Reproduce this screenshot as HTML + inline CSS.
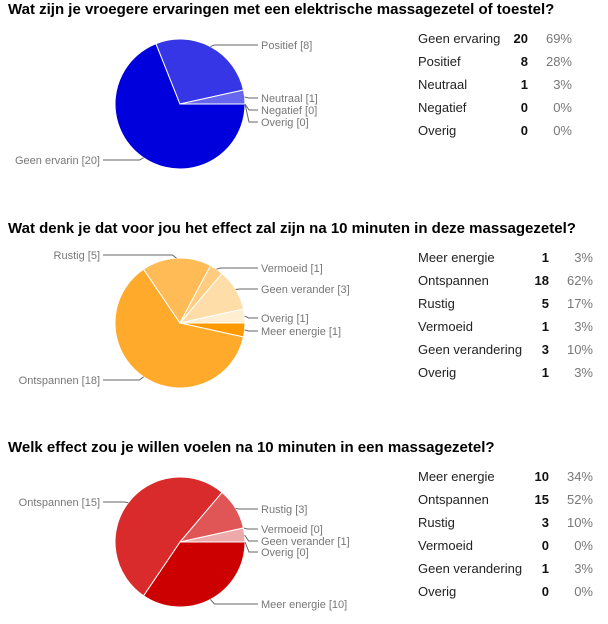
<!DOCTYPE html>
<html><head><meta charset="utf-8">
<style>
body{margin:0;width:608px;height:624px;background:#fff;font-family:"Liberation Sans",Arial,sans-serif;position:relative;overflow:hidden}
.title{position:absolute;left:8px;font-weight:bold;font-size:15px;color:#000}
table{position:absolute;border-collapse:collapse;font-size:13px}
td{height:23px;padding:0;vertical-align:middle}
td.l{color:#222}
td.n{text-align:right;font-weight:bold;color:#111}
td.p{text-align:right;color:#777}
</style></head><body>
<div class="title" style="top:1px">Wat zijn je vroegere ervaringen met een elektrische massagezetel of toestel?</div>
<div class="title" style="top:220px">Wat denk je dat voor jou het effect zal zijn na 10 minuten in deze massagezetel?</div>
<div class="title" style="top:439px">Welk effect zou je willen voelen na 10 minuten in een massagezetel?</div>
<svg id="svg" width="608" height="624" style="position:absolute;left:0;top:0"></svg>
<script>
const cats1=["Geen ervaring","Positief","Neutraal","Negatief","Overig"];
const vals1=[20,8,1,0,0];
const pieLabels1=["Geen ervarin [20]","Positief [8]","Neutraal [1]","Negatief [0]","Overig [0]"];
const pcts1=["69%","28%","3%","0%","0%"];
const cats2=["Meer energie","Ontspannen","Rustig","Vermoeid","Geen verandering","Overig"];
const vals2=[1,18,5,1,3,1];
const pieLabels2=["Meer energie [1]","Ontspannen [18]","Rustig [5]","Vermoeid [1]","Geen verander [3]","Overig [1]"];
const pcts2=["3%","62%","17%","3%","10%","3%"];
const cats3=["Meer energie","Ontspannen","Rustig","Vermoeid","Geen verandering","Overig"];
const vals3=[10,15,3,0,1,0];
const pieLabels3=["Meer energie [10]","Ontspannen [15]","Rustig [3]","Vermoeid [0]","Geen verander [1]","Overig [0]"];
const pcts3=["34%","52%","10%","0%","3%","0%"];

const NS="http://www.w3.org/2000/svg";
const svg=document.getElementById('svg');
function mk(t,a){const e=document.createElementNS(NS,t);for(const k in a)e.setAttribute(k,a[k]);svg.appendChild(e);return e;}
function pie(id,cx,cy,r,vals,labels,colors,lab){
  const tot=vals.reduce((a,b)=>a+b,0);let a0=0;
  vals.forEach((v,i)=>{
    const a1=a0+v/tot*2*Math.PI;
    if(v>0){
      const x0=cx+r*Math.cos(a0),y0=cy+r*Math.sin(a0),x1=cx+r*Math.cos(a1),y1=cy+r*Math.sin(a1);
      const large=(a1-a0)>Math.PI?1:0;
      const p=mk('path',{d:`M${cx},${cy}L${x0},${y0}A${r},${r} 0 ${large} 1 ${x1},${y1}Z`,fill:colors[i],stroke:'#fff','stroke-width':1});
      
      
    }
    const am=(a0+a1)/2, ex=cx+r*Math.cos(am), ey=cy+r*Math.sin(am);
    const L=lab[i], right=L[0]>0;
    const tx=Math.abs(L[0]);
    const bx=right?ex+4:ex-4;
    const endX=right?tx-3:tx+3;
    const ln=mk('polyline',{points:`${ex},${ey} ${bx},${L[1]} ${endX},${L[1]}`,fill:'none',stroke:'#666','stroke-width':1});
    
    
    const t=mk('text',{x:tx,y:L[1]+4,'font-size':11,fill:'#777','text-anchor':right?'start':'end','font-family':'Liberation Sans, Arial, sans-serif'});
    t.textContent=labels[i];
    
    
    a0=a1;
  });
}
pie('chart1',180,104,65,vals1,pieLabels1,['#0000dd','#3636e6','#6666ee','#9999f4','#ccccfa'],
 [[-100,160],[261,45],[261,98],[261,110],[261,122]]);
pie('chart2',180,323,65,vals2,pieLabels2,['#ff9900','#ffaa2a','#ffbb55','#ffcc80','#ffdda8','#ffeed2'],
 [[261,331],[-100,380],[-100,255],[261,268],[261,289],[261,318]]);
pie('chart3',180,542,65,vals3,pieLabels3,['#cc0000','#d92b2b','#e05555','#e88080','#eeaaaa','#f6d5d5'],
 [[261,604],[-100,502],[261,509],[261,529],[261,541],[261,552]]);

function table(id,top,numR,pctR,cats,vals,pcts){
  const t=document.createElement('table');
  t.style.left='418px';t.style.top=top+'px';
  
  
  cats.forEach((c,i)=>{
    const tr=document.createElement('tr');
    
    
    const a=document.createElement('td');a.className='l';a.textContent=c;a.style.width=(numR-418-25)+'px';
    const b=document.createElement('td');b.className='n';b.textContent=vals[i];b.style.width='25px';
    const p=document.createElement('td');p.className='p';p.textContent=pcts[i];p.style.width=(pctR-numR)+'px';
    tr.append(a,b,p);t.appendChild(tr);
  });
  document.body.appendChild(t);
}
table('chart1',27,528,572,cats1,vals1,pcts1);
table('chart2',246,549,593,cats2,vals2,pcts2);
table('chart3',465,549,593,cats3,vals3,pcts3);
</script>
</body></html>
